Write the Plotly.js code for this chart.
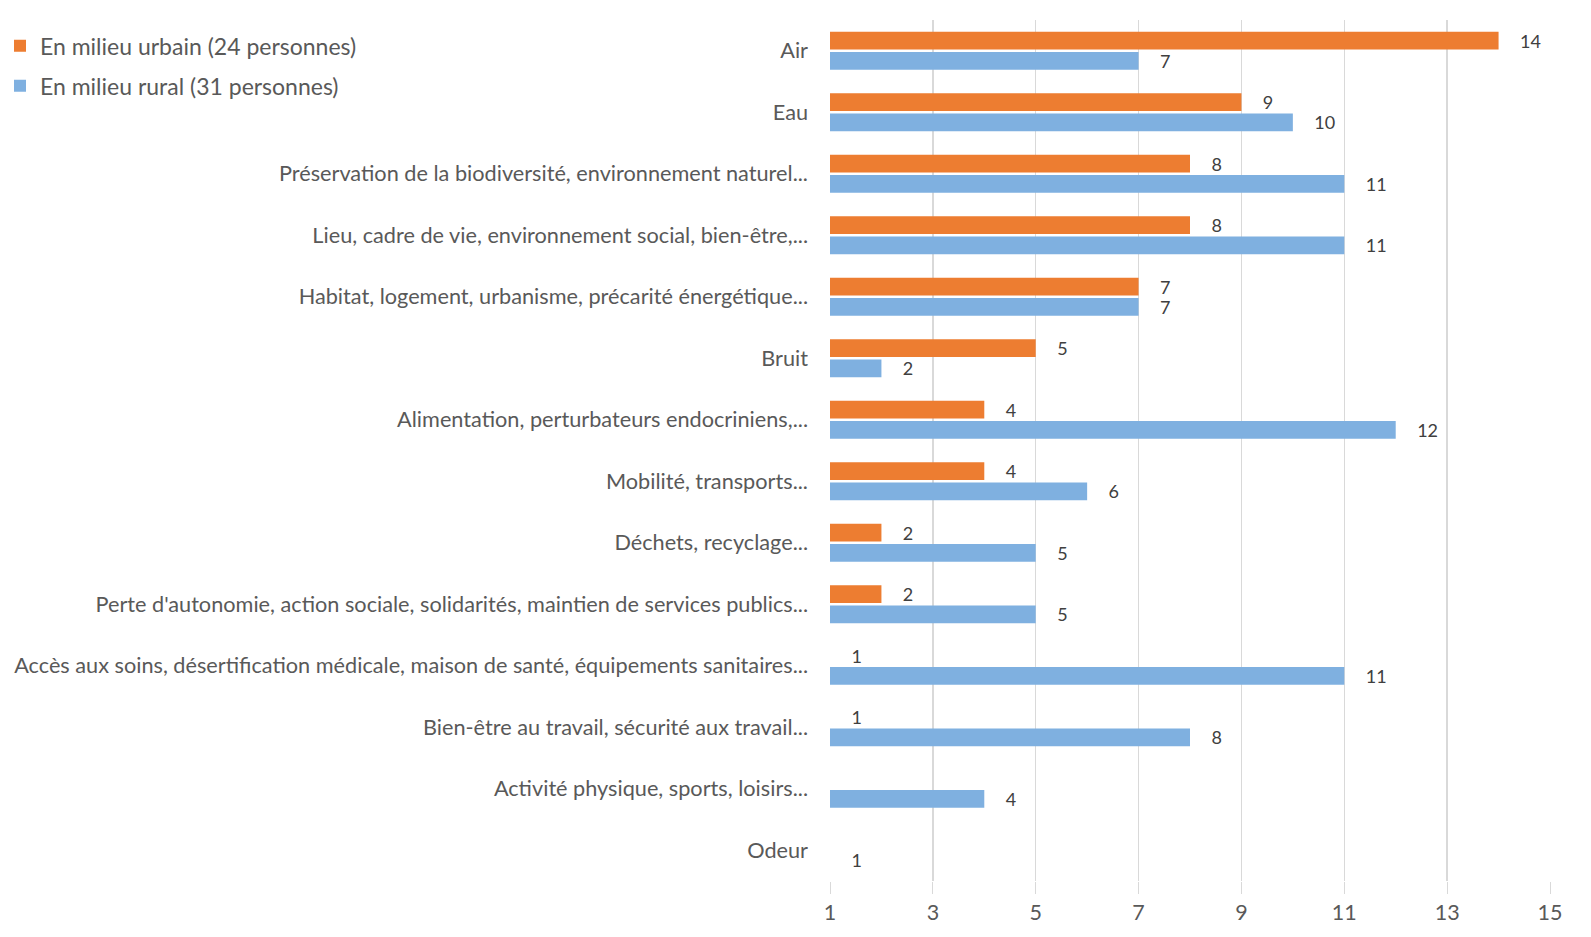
<!DOCTYPE html>
<html><head><meta charset="utf-8">
<script src="https://cdn.plot.ly/plotly-3.0.1.min.js"></script>
<style>html,body{margin:0;padding:0;background:#fff}#chart{width:1591px;height:937px}</style>
</head><body><div id="chart"></div>
<script>
const categories = [
  "Air",
  "Eau",
  "Préservation de la biodiversité, environnement naturel...",
  "Lieu, cadre de vie, environnement social, bien-être,...",
  "Habitat, logement, urbanisme, précarité énergétique...",
  "Bruit",
  "Alimentation, perturbateurs endocriniens,...",
  "Mobilité, transports...",
  "Déchets, recyclage...",
  "Perte d'autonomie, action sociale, solidarités, maintien de services publics...",
  "Accès aux soins, désertification médicale, maison de santé, équipements sanitaires...",
  "Bien-être au travail, sécurité aux travail...",
  "Activité physique, sports, loisirs...",
  "Odeur"
];
const urbainName = "En milieu urbain (24 personnes)";
const ruralName = "En milieu rural (31 personnes)";
const urbain = [14, 9, 8, 8, 7, 5, 4, 4, 2, 2, 1, 1, null, null];
const rural  = [7, 10, 11, 11, 7, 2, 12, 6, 5, 5, 11, 8, 4, 1];
const xTicks = [1, 3, 5, 7, 9, 11, 13, 15];

const font = "Lato, 'Open Sans', sans-serif";
const pad = "\u00a0\u00a0\u00a0\u00a0";
const mk = (name, vals, color, grp) => ({
  type: "bar", orientation: "h", name: name, legendgroup: grp,
  y: categories, x: vals,
  marker: {color: color},
  text: vals.map(v => v == null ? "" : pad + String(v)),
  textposition: "outside", cliponaxis: false, constraintext: "none", textangle: 0,
  textfont: {family: font, size: 18, color: "#404040"},
  hoverinfo: "x+y"
});
const data = [mk(urbainName, urbain, "#ED7D31", "u"), mk(ruralName, rural, "#7FB0E0", "r")];
const layout = {
  width: 1591, height: 937,
  margin: {l: 830, r: 41, t: 20, b: 56},
  barmode: "group", bargap: 0.34, bargroupgap: 0.12,
  paper_bgcolor: "#fff", plot_bgcolor: "#fff",
  font: {family: font, color: "#595959"},
  showlegend: true,
  legend: {xref: "container", yref: "container", x: 0, y: 0.974, xanchor: "left", yanchor: "top",
           traceorder: "grouped",
           font: {size: 23, color: "#595959", family: font}, itemwidth: 30, tracegroupgap: 7,
           bgcolor: "rgba(0,0,0,0)"},
  xaxis: {range: [1, 15], tickvals: xTicks, showgrid: true, gridcolor: "#D9D9D9", gridwidth: 1.3,
          zeroline: false, showline: false, ticks: "outside", ticklen: 12, tickcolor: "#D9D9D9",
          tickfont: {size: 21.5, color: "#595959", family: font}, fixedrange: true},
  yaxis: {autorange: "reversed", type: "category", showgrid: false, zeroline: false, showline: false,
          ticks: "", ticklabelstandoff: 21, tickfont: {size: 21.7, color: "#595959", family: font}, automargin: false}
};
Plotly.newPlot("chart", data, layout, {displayModeBar: false, staticPlot: true});
</script></body></html>
